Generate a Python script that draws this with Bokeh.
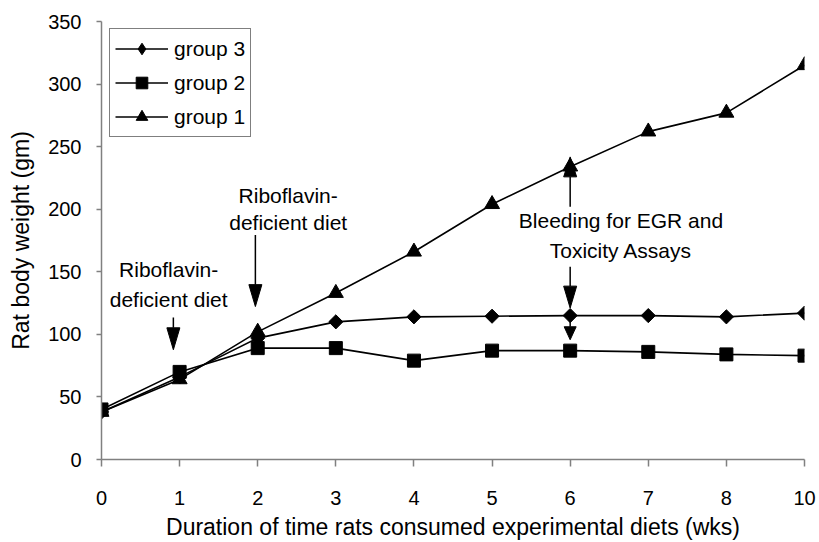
from bokeh.plotting import figure
from bokeh.models import Range1d, Legend, LegendItem, Label, FixedTicker
from bokeh.embed import file_html
from bokeh.resources import INLINE
import numpy as np

# ---- data ----
weeks = ["0", "1", "2", "3", "4", "5", "6", "7", "8", "10"]
group1 = [38, 64, 102, 133, 166, 204, 234, 262, 277, 315]
group2 = [40, 70, 89, 89, 79, 87, 87, 86, 84, 83]
group3 = [38, 66, 97, 110, 114, 114.5, 115, 115, 114, 117]
y_ticks = [0, 50, 100, 150, 200, 250, 300, 350]

# annotations: (x position index, y of line centre, text)
note_texts = [
    (0.86, 151.5, "Riboflavin-"), (0.86, 127.6, "deficient diet"),
    (2.39, 211.3, "Riboflavin-"), (2.39, 189.0, "deficient diet"),
    (6.65, 190.8, "Bleeding for EGR and"), (6.65, 167.4, "Toxicity Assays"),
]
# arrows: x, y start, y tip, head length px, head width px
arrows = [
    (0.92, 113.5, 87.7, 22, 13),
    (1.97, 179.4, 122.2, 22, 13),
    (6.0, 202.0, 241.8, 20, 13),
    (6.0, 154.0, 121.0, 22, 13),
    (6.0, 113.2, 95.7, 13, 12),
]

FONT = "Liberation Sans"
FS = "20px"
NOTE_FS = "21px"
TITLE_FS = "23px"

xpos = list(range(len(weeks)))

W, H = 819, 542
p = figure(width=W, height=H, output_backend="svg", toolbar_location=None,
           x_range=Range1d(0, len(weeks) - 1), y_range=Range1d(0, 350),
           min_border_left=101, min_border_right=15, min_border_top=21,
           min_border_bottom=82)
p.outline_line_color = None
p.xgrid.visible = False
p.ygrid.visible = False
p.background_fill_color = "white"
p.border_fill_color = "white"

for ax in (p.xaxis[0], p.yaxis[0]):
    ax.axis_line_color = "#808080"
    ax.axis_line_width = 1.5
    ax.major_tick_line_color = "#808080"
    ax.major_tick_line_width = 1.5
    ax.minor_tick_line_color = None
    ax.major_tick_in = 0
    ax.major_label_text_font = FONT
    ax.major_label_text_font_size = FS
    ax.major_label_text_color = "black"
    ax.axis_label_text_font = FONT
    ax.axis_label_text_font_size = TITLE_FS
    ax.axis_label_text_font_style = "normal"
    ax.axis_label_text_color = "black"

p.xaxis.ticker = FixedTicker(ticks=xpos)
p.xaxis.major_label_overrides = {i: w for i, w in enumerate(weeks)}
p.xaxis.major_tick_out = 7
p.xaxis.major_label_standoff = 24
p.xaxis.axis_label = "Duration of time rats consumed experimental diets (wks)"
p.xaxis.axis_label_standoff = 6

p.yaxis.ticker = FixedTicker(ticks=y_ticks)
p.yaxis.major_tick_out = 5
p.yaxis.major_label_standoff = 15
p.yaxis.axis_label = "Rat body weight (gm)"
p.yaxis.axis_label_standoff = 11

# series
l3 = p.line(xpos, group3, line_color="black", line_width=1.6)
m3 = p.scatter(xpos, group3, marker="square", angle=np.pi / 4, size=10,
               fill_color="black", line_color="black")
leg3 = p.scatter(xpos, group3, marker="diamond", size=14,
                 fill_color="black", line_color="black", visible=False)
l2 = p.line(xpos, group2, line_color="black", line_width=1.6)
m2 = p.scatter(xpos, group2, marker="square", size=13,
               fill_color="black", line_color="black")
l1 = p.line(xpos, group1, line_color="black", line_width=1.6)
m1 = p.scatter(xpos, group1, marker="triangle", size=15,
               fill_color="black", line_color="black")

# annotation texts
for x, y, t in note_texts:
    p.add_layout(Label(x=x, y=y, text=t, text_align="center",
                       text_baseline="middle", text_font=FONT,
                       text_font_size=NOTE_FS, text_color="black"))

# arrows (shaft + narrow head), head sizes converted from px to data units
px_per_x = (804 - 101) / (len(weeks) - 1)
px_per_y = 439 / 350
for x, y0, y1, hl, hw in arrows:
    d = 1 if y1 > y0 else -1
    hl_d = hl / px_per_y
    hw_d = hw / px_per_x
    base = y1 - d * hl_d
    p.segment(x0=[x], y0=[y0], x1=[x], y1=[base], line_color="black",
              line_width=1.5)
    p.patch([x - hw_d / 2, x + hw_d / 2, x], [base, base, y1],
            fill_color="black", line_color="black", line_width=1)

legend = Legend(items=[
    LegendItem(label="group 3", renderers=[l3, leg3]),
    LegendItem(label="group 2", renderers=[l2, m2]),
    LegendItem(label="group 1", renderers=[l1, m1]),
], location=(8, 322), margin=0)
legend.label_text_font = FONT
legend.label_text_font_size = "21px"
legend.label_text_color = "black"
legend.glyph_width = 53
legend.glyph_height = 29
legend.label_height = 29
legend.label_standoff = 6
legend.spacing = 5
legend.padding = 5
legend.border_line_color = "black"
legend.border_line_width = 1
legend.background_fill_color = "white"
legend.background_fill_alpha = 1
p.add_layout(legend, "center")

open("out.html", "w").write(file_html(p, INLINE))
